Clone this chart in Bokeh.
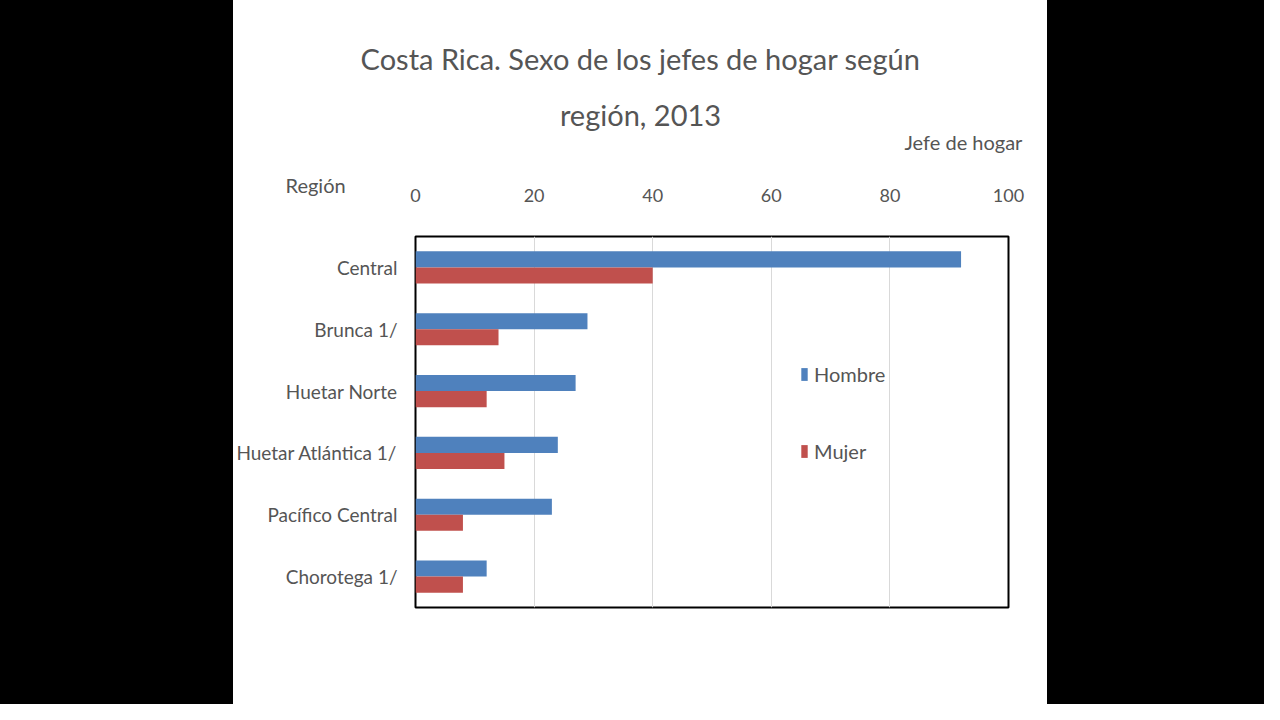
from bokeh.plotting import figure
from bokeh.models import (FactorRange, Range1d, Label, Legend, LegendItem, Spacer,
                          ColumnDataSource, FixedTicker)
from bokeh.layouts import row
from bokeh.transform import dodge
from bokeh.embed import file_html
from bokeh.resources import INLINE

# ---- data ----
regions = ["Central", "Brunca 1/", "Huetar Norte", "Huetar Atlántica 1/",
           "Pacífico Central", "Chorotega 1/"]
hombre = [92, 29, 27, 24, 23, 12]
mujer = [40, 14, 12, 15, 8, 8]
x_ticks = [0, 20, 40, 60, 80, 100]
series_names = ["Hombre", "Mujer"]
title_lines = ["Costa Rica. Sexo de los jefes de hogar según", "región, 2013"]
x_title = "Jefe  de hogar"
y_title = "Región"

FONT = "Lato"
TXT = "#555555"
BLUE = "#4F81BD"
RED = "#C0504D"

src = ColumnDataSource(dict(region=regions, hombre=hombre, mujer=mujer))

p = figure(width=814, height=704,
           y_range=FactorRange(*reversed(regions)),
           x_range=Range1d(0, 100),
           x_axis_location="above",
           output_backend="svg", toolbar_location=None,
           min_border_left=182, min_border_right=39,
           min_border_top=236, min_border_bottom=97,
           background_fill_color="white", border_fill_color="white")

r_h = p.hbar(y=dodge("region", 0.13, range=p.y_range), right="hombre", left=0,
             height=0.26, source=src, fill_color=BLUE, line_color=None)
r_m = p.hbar(y=dodge("region", -0.13, range=p.y_range), right="mujer", left=0,
             height=0.26, source=src, fill_color=RED, line_color=None)

p.outline_line_color = "black"
p.outline_line_width = 2
p.ygrid.grid_line_color = None
p.xgrid.grid_line_color = "#d9d9d9"
p.xgrid.grid_line_width = 1

xa = p.xaxis[0]
xa.ticker = FixedTicker(ticks=x_ticks)
xa.axis_line_color = None
xa.major_tick_line_color = None
xa.minor_tick_line_color = None
xa.major_tick_out = 0
xa.major_tick_in = 0
xa.major_label_standoff = 35
xa.major_label_text_font = FONT
xa.major_label_text_font_size = "18px"
xa.major_label_text_color = TXT

ya = p.yaxis[0]
ya.axis_line_color = None
ya.major_tick_line_color = None
ya.minor_tick_line_color = None
ya.major_tick_out = 0
ya.major_tick_in = 0
ya.major_label_standoff = 18
ya.major_label_text_font = FONT
ya.major_label_text_font_size = "19px"
ya.major_label_text_color = TXT

legend = Legend(items=[LegendItem(label=series_names[0], renderers=[r_h]),
                       LegendItem(label=series_names[1], renderers=[r_m])],
                location=(385, 144), orientation="vertical",
                glyph_width=8, glyph_height=16, label_height=22,
                spacing=53, padding=0, margin=0, label_standoff=6,
                border_line_color=None, background_fill_alpha=0,
                label_text_font=FONT, label_text_font_size="20px",
                label_text_color=TXT)
p.add_layout(legend, "center")

def lab(text, x, y, size, align):
    p.add_layout(Label(x=x, y=y, x_units="screen", y_units="screen", text=text,
                       text_align=align, text_baseline="middle",
                       text_font=FONT, text_font_size=size, text_color=TXT), "above")

lab(title_lines[0], 225, 127, "29px", "center")
lab(title_lines[1], 225, 36, "29px", "center")
lab(x_title, 612, -26, "20px", "right")
lab(y_title, -130, -93, "20px", "left")

left = Spacer(width=233, height=704, styles={"background-color": "black"})
right = Spacer(width=217, height=704, styles={"background-color": "black"})
layout = row(left, p, right)

open("out.html", "w").write(file_html(layout, INLINE))
